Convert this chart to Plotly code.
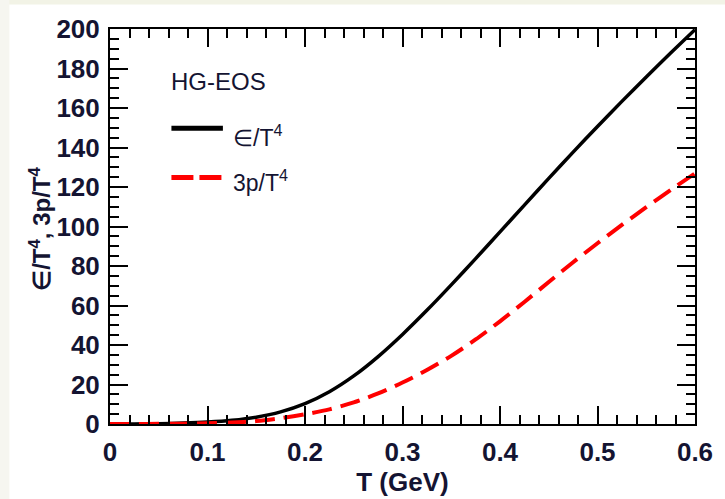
import plotly.graph_objects as go

# ---- data ----
T = [0.0, 0.025, 0.05, 0.075, 0.1, 0.125, 0.15, 0.175, 0.2, 0.225, 0.25, 0.275, 0.3,
     0.325, 0.35, 0.375, 0.4, 0.425, 0.45, 0.475, 0.5, 0.525, 0.55, 0.575, 0.6]
eps_T4 = [0.0, 0.05, 0.15, 0.45, 0.95, 1.85, 3.45, 6.15, 10.35, 16.35, 24.35, 34.15, 45.35,
          57.55, 70.45, 83.75, 97.25, 110.85, 124.35, 137.65, 150.65, 163.35, 175.75, 187.85, 199.65]
p3_T4 = [0.0, 0.02, 0.07, 0.17, 0.35, 0.75, 1.5, 2.9, 4.9, 7.4, 10.9, 15.5, 21.0,
         27.3, 34.5, 42.8, 52.0, 61.8, 71.9, 81.9, 91.5, 100.8, 109.8, 118.5, 126.9]

x_ticks = [0, 0.1, 0.2, 0.3, 0.4, 0.5, 0.6]
x_ticktext = ["0", "0.1", "0.2", "0.3", "0.4", "0.5", "0.6"]
y_ticks = [0, 20, 40, 60, 80, 100, 120, 140, 160, 180, 200]

FONT = "Liberation Sans, Arial, sans-serif"
TXT = "#141432"

fig = go.Figure()
fig.add_trace(go.Scatter(x=T, y=eps_T4, mode="lines", name="∈/T<sup>4</sup>",
                         line=dict(color="black", width=3.5, shape="spline", smoothing=0.8),
                         showlegend=False))
fig.add_trace(go.Scatter(x=T, y=p3_T4, mode="lines", name="3p/T<sup>4</sup>",
                         line=dict(color="#ff0000", width=4, dash="20px,9px", shape="spline", smoothing=0.8),
                         showlegend=False))

axis_common = dict(
    showline=True, linewidth=2, linecolor="black", mirror="allticks",
    ticks="inside", ticklen=18, tickwidth=2, tickcolor="black",
    showgrid=False, zeroline=False,
    tickfont=dict(family=FONT, size=26, color=TXT, weight="bold"),
)

fig.update_xaxes(range=[0, 0.6], tickvals=x_ticks, ticktext=x_ticktext,
                 minor=dict(dtick=0.02, ticklen=9, tickwidth=2, tickcolor="black", ticks="inside", showgrid=False),
                 title=dict(text="T (GeV)", standoff=2,
                            font=dict(family=FONT, size=26, color=TXT, weight="bold")),
                 ticklabelstandoff=4,
                 **axis_common)
fig.update_yaxes(range=[0, 200], tickvals=y_ticks,
                 minor=dict(dtick=5, ticklen=9, tickwidth=2, tickcolor="black", ticks="inside", showgrid=False),
                 ticklabelstandoff=3,
                 **axis_common)

# y-axis title placed as a rotated annotation
fig.add_annotation(xref="paper", yref="paper", x=-0.119, y=0.495, xanchor="center", yanchor="middle",
                   text="∈/T<sup>4</sup>, 3p/T<sup>4</sup>", textangle=-90, showarrow=False,
                   font=dict(family=FONT, size=24, color=TXT, weight="bold"))

# background strips (beige frame around white panel)
fig.add_shape(type="rect", xref="paper", yref="paper", x0=-0.2, x1=1.1, y0=1.062, y1=1.08,
              fillcolor="#f2f3e6", line=dict(width=0), layer="below")
fig.add_shape(type="rect", xref="paper", yref="paper", x0=-0.2, x1=-0.172, y0=-0.2, y1=1.08,
              fillcolor="#f6f6f0", line=dict(width=0), layer="below")

# manual legend
fig.add_annotation(xref="paper", yref="paper", x=0.1, y=0.868, xanchor="left", yanchor="middle",
                   text="HG-EOS", showarrow=False,
                   font=dict(family=FONT, size=24, color=TXT))
fig.add_shape(type="line", xref="paper", yref="paper", x0=0.105, x1=0.193, y0=0.749, y1=0.749,
              line=dict(color="black", width=5))
fig.add_shape(type="line", xref="paper", yref="paper", x0=0.105, x1=0.193, y0=0.624, y1=0.624,
              line=dict(color="#ff0000", width=5, dash="22px,6px"))
fig.add_annotation(xref="paper", yref="paper", x=0.207, y=0.728, xanchor="left", yanchor="middle",
                   text="∈/T<sup>4</sup>", showarrow=False,
                   font=dict(family=FONT, size=23, color=TXT))
fig.add_annotation(xref="paper", yref="paper", x=0.207, y=0.614, xanchor="left", yanchor="middle",
                   text="3p/T<sup>4</sup>", showarrow=False,
                   font=dict(family=FONT, size=23, color=TXT))

fig.update_layout(
    width=725, height=499,
    margin=dict(l=110, r=25, t=29, b=68),
    paper_bgcolor="white", plot_bgcolor="white",
    font=dict(family=FONT),
)

fig.write_html("out.html")
